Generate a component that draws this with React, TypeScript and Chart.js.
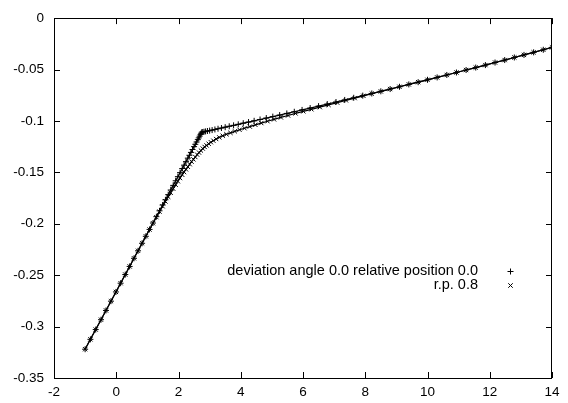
import React, { useEffect, useRef } from 'react';
import { Chart, registerables } from 'chart.js';

Chart.register(...registerables);

const xTicks = [-2, 0, 2, 4, 6, 8, 10, 12, 14];
const yTicks = [0, -0.05, -0.1, -0.15, -0.2, -0.25, -0.3, -0.35];
const seriesLabels = ['deviation angle 0.0 relative position 0.0', 'r.p. 0.8'];

const x1 = [-1.00, -0.83, -0.66, -0.49, -0.33, -0.17, -0.01, 0.14, 0.29, 0.43, 0.57, 0.70, 0.83, 0.95, 1.07, 1.18, 1.29, 1.39, 1.49, 1.58, 1.67, 1.75, 1.83, 1.91, 1.98, 2.05, 2.12, 2.18, 2.24, 2.30, 2.35, 2.40, 2.45, 2.50, 2.54, 2.58, 2.62, 2.65, 2.68, 2.71, 2.73, 2.75, 2.78, 2.82, 2.87, 2.93, 3.00, 3.08, 3.17, 3.27, 3.38, 3.50, 3.63, 3.77, 3.92, 4.08, 4.25, 4.43, 4.62, 4.82, 5.03, 5.25, 5.48, 5.72, 5.97, 6.23, 6.50, 6.78, 7.06, 7.34, 7.63, 7.92, 8.21, 8.50, 8.80, 9.10, 9.40, 9.70, 10.00, 10.31, 10.62, 10.93, 11.24, 11.55, 11.86, 12.17, 12.48, 12.79, 13.10, 13.41, 13.72, 14.00];
const y1 = [-0.3220, -0.3124, -0.3029, -0.2933, -0.2843, -0.2753, -0.2663, -0.2578, -0.2494, -0.2415, -0.2336, -0.2263, -0.2190, -0.2122, -0.2055, -0.1993, -0.1931, -0.1874, -0.1818, -0.1767, -0.1717, -0.1672, -0.1627, -0.1582, -0.1542, -0.1503, -0.1463, -0.1430, -0.1396, -0.1362, -0.1334, -0.1306, -0.1278, -0.1250, -0.1227, -0.1205, -0.1182, -0.1165, -0.1148, -0.1131, -0.1120, -0.1109, -0.1108, -0.1105, -0.1102, -0.1098, -0.1094, -0.1089, -0.1083, -0.1076, -0.1069, -0.1061, -0.1052, -0.1043, -0.1033, -0.1022, -0.1011, -0.0999, -0.0986, -0.0972, -0.0958, -0.0943, -0.0927, -0.0911, -0.0893, -0.0875, -0.0856, -0.0836, -0.0816, -0.0796, -0.0775, -0.0754, -0.0733, -0.0712, -0.0690, -0.0668, -0.0645, -0.0623, -0.0600, -0.0577, -0.0553, -0.0529, -0.0505, -0.0481, -0.0457, -0.0432, -0.0408, -0.0383, -0.0358, -0.0333, -0.0308, -0.0285];

const x2 = [-1.00, -0.83, -0.66, -0.49, -0.33, -0.17, -0.01, 0.14, 0.29, 0.43, 0.57, 0.70, 0.83, 0.95, 1.07, 1.18, 1.29, 1.39, 1.49, 1.58, 1.67, 1.75, 1.83, 1.91, 1.98, 2.05, 2.12, 2.18, 2.24, 2.30, 2.36, 2.42, 2.48, 2.54, 2.60, 2.66, 2.72, 2.78, 2.84, 2.90, 2.97, 3.04, 3.12, 3.21, 3.31, 3.42, 3.54, 3.67, 3.81, 3.96, 4.12, 4.29, 4.47, 4.66, 4.86, 5.07, 5.29, 5.52, 5.76, 6.01, 6.27, 6.54, 6.82, 7.10, 7.38, 7.66, 7.94, 8.21, 8.50, 8.80, 9.10, 9.40, 9.70, 10.00, 10.31, 10.62, 10.93, 11.24, 11.55, 11.86, 12.17, 12.48, 12.79, 13.10, 13.41, 13.72, 14.00];
const y2 = [-0.3220, -0.3124, -0.3029, -0.2933, -0.2843, -0.2753, -0.2663, -0.2578, -0.2494, -0.2415, -0.2336, -0.2263, -0.2190, -0.2122, -0.2056, -0.1995, -0.1936, -0.1882, -0.1830, -0.1783, -0.1738, -0.1698, -0.1659, -0.1621, -0.1587, -0.1555, -0.1524, -0.1497, -0.1471, -0.1446, -0.1421, -0.1396, -0.1374, -0.1351, -0.1328, -0.1308, -0.1288, -0.1269, -0.1253, -0.1238, -0.1222, -0.1207, -0.1192, -0.1176, -0.1160, -0.1144, -0.1130, -0.1116, -0.1101, -0.1086, -0.1071, -0.1055, -0.1038, -0.1021, -0.1003, -0.0985, -0.0966, -0.0947, -0.0927, -0.0907, -0.0887, -0.0866, -0.0844, -0.0822, -0.0800, -0.0778, -0.0756, -0.0734, -0.0713, -0.0690, -0.0668, -0.0645, -0.0623, -0.0600, -0.0577, -0.0553, -0.0529, -0.0505, -0.0481, -0.0457, -0.0432, -0.0408, -0.0383, -0.0358, -0.0333, -0.0308, -0.0285];

const FONT = '"Liberation Sans", Arial, Helvetica, sans-serif';

function zip(xs: number[], ys: number[]) {
  const n = Math.min(xs.length, ys.length);
  const out: { x: number; y: number }[] = [];
  for (let i = 0; i < n; i++) out.push({ x: xs[i], y: ys[i] });
  return out;
}

function fmt(v: number) {
  return String(Number(v.toFixed(2)));
}

function drawMarker(ctx: CanvasRenderingContext2D, style: string, x: number, y: number, r: number) {
  ctx.beginPath();
  if (style === 'cross') {
    ctx.moveTo(x - r, y); ctx.lineTo(x + r, y);
    ctx.moveTo(x, y - r); ctx.lineTo(x, y + r);
  } else {
    const d = r * 0.75;
    ctx.moveTo(x - d, y - d); ctx.lineTo(x + d, y + d);
    ctx.moveTo(x - d, y + d); ctx.lineTo(x + d, y - d);
  }
  ctx.stroke();
}

const framePlugin = {
  id: 'gnuFrame',
  afterDatasetsDraw(chart: any) {
    const { ctx, chartArea, scales } = chart;
    const { left, right, top, bottom } = chartArea;
    ctx.save();
    ctx.strokeStyle = '#000';
    ctx.lineWidth = 1;
    ctx.strokeRect(Math.round(left) + 0.5, Math.round(top) + 0.5, Math.round(right - left) - 1, Math.round(bottom - top));
    const tl = 6;
    ctx.beginPath();
    for (const v of xTicks) {
      const px = Math.round(scales.x.getPixelForValue(v)) + 0.5;
      ctx.moveTo(px, bottom); ctx.lineTo(px, bottom - tl);
      ctx.moveTo(px, top); ctx.lineTo(px, top + tl);
    }
    for (const v of yTicks) {
      const py = Math.round(scales.y.getPixelForValue(v)) + 0.5;
      ctx.moveTo(left, py); ctx.lineTo(left + tl, py);
      ctx.moveTo(right, py); ctx.lineTo(right - tl, py);
    }
    ctx.stroke();

    // key
    ctx.font = '14.5px ' + FONT;
    ctx.fillStyle = '#000';
    ctx.textAlign = 'right';
    ctx.textBaseline = 'middle';
    const styles = ['cross', 'crossRot'];
    const rows = [271, 285];
    seriesLabels.forEach((lab, i) => {
      ctx.fillText(lab, 478, rows[i]);
      drawMarker(ctx, styles[i], 510.5, rows[i] + 0.5, 3);
    });
    ctx.restore();
  },
};

export default function App() {
  const ref = useRef<HTMLCanvasElement | null>(null);
  useEffect(() => {
    document.body.style.margin = '0';
    const canvas = ref.current;
    if (!canvas) return;
    const chart = new Chart(canvas, {
      type: 'scatter',
      data: {
        datasets: [
          {
            label: seriesLabels[0],
            data: zip(x1, y1),
            showLine: true,
            borderColor: '#000',
            borderWidth: 1.2,
            pointStyle: 'cross',
            pointRadius: 3,
            pointBorderWidth: 1,
            pointBorderColor: '#000',
            pointBackgroundColor: '#000',
          },
          {
            label: seriesLabels[1],
            data: zip(x2, y2),
            showLine: true,
            borderColor: '#000',
            borderWidth: 1.2,
            pointStyle: 'crossRot',
            pointRadius: 3,
            pointBorderWidth: 1,
            pointBorderColor: '#000',
            pointBackgroundColor: '#000',
          },
        ],
      },
      options: {
        animation: false,
        responsive: false,
        maintainAspectRatio: false,
        layout: { padding: { top: 10, right: 16, left: 0, bottom: 0 } },
        plugins: { legend: { display: false }, tooltip: { enabled: false } },
        scales: {
          x: {
            type: 'linear',
            min: -2,
            max: 14,
            grid: { display: false, drawTicks: false },
            border: { display: false },
            afterBuildTicks: (s: any) => { s.ticks = xTicks.map((v) => ({ value: v })); },
            afterFit: (s: any) => { s.height = 25; },
            ticks: {
              color: '#000',
              padding: 6,
              maxRotation: 0,
              autoSkip: false,
              font: { family: FONT, size: 13.5 },
              callback: (v: any) => fmt(Number(v)),
            },
          },
          y: {
            type: 'linear',
            min: -0.35,
            max: 0,
            grid: { display: false, drawTicks: false },
            border: { display: false },
            afterBuildTicks: (s: any) => { s.ticks = yTicks.map((v) => ({ value: v })); },
            afterFit: (s: any) => { s.width = 54; },
            ticks: {
              color: '#000',
              padding: 10,
              autoSkip: false,
              font: { family: FONT, size: 13.5 },
              callback: (v: any) => fmt(Number(v)),
            },
          },
        },
      },
      plugins: [framePlugin],
    });
    return () => chart.destroy();
  }, []);
  return (
    <div style={{ width: 568, height: 403, background: '#fff' }}>
      <canvas ref={ref} width={568} height={403} style={{ display: 'block', width: 568, height: 403 }} />
    </div>
  );
}
